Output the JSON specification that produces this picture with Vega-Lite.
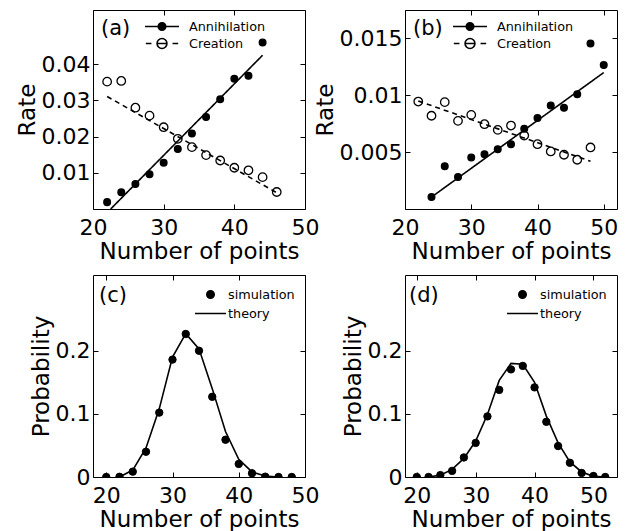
{
  "$schema": "https://vega.github.io/schema/vega-lite/v6.json",
  "background": "white",
  "padding": {"left": 15, "top": 9, "right": 0, "bottom": 0},
  "columns": 2,
  "spacing": {"row": 66, "column": 100},
  "bounds": "flush",
  "resolve": {
    "scale": {"fill": "independent", "shape": "independent"},
    "legend": {"fill": "independent", "shape": "independent"}
  },
  "datasets": {
    "a_pts": [
      {"series": "Annihilation", "n": 22, "rate": 0.0019},
      {"series": "Annihilation", "n": 24, "rate": 0.0046},
      {"series": "Annihilation", "n": 26, "rate": 0.0069},
      {"series": "Annihilation", "n": 28, "rate": 0.0096},
      {"series": "Annihilation", "n": 30, "rate": 0.0128},
      {"series": "Annihilation", "n": 32, "rate": 0.0166},
      {"series": "Annihilation", "n": 34, "rate": 0.0209},
      {"series": "Annihilation", "n": 36, "rate": 0.0254},
      {"series": "Annihilation", "n": 38, "rate": 0.0303},
      {"series": "Annihilation", "n": 40, "rate": 0.036},
      {"series": "Annihilation", "n": 42, "rate": 0.0368},
      {"series": "Annihilation", "n": 44, "rate": 0.046},
      {"series": "Creation", "n": 22, "rate": 0.0352},
      {"series": "Creation", "n": 24, "rate": 0.0354},
      {"series": "Creation", "n": 26, "rate": 0.028},
      {"series": "Creation", "n": 28, "rate": 0.0258},
      {"series": "Creation", "n": 30, "rate": 0.0226},
      {"series": "Creation", "n": 32, "rate": 0.0194},
      {"series": "Creation", "n": 34, "rate": 0.0171},
      {"series": "Creation", "n": 36, "rate": 0.0149},
      {"series": "Creation", "n": 38, "rate": 0.0134},
      {"series": "Creation", "n": 40, "rate": 0.0114},
      {"series": "Creation", "n": 42, "rate": 0.0107},
      {"series": "Creation", "n": 44, "rate": 0.0088},
      {"series": "Creation", "n": 46, "rate": 0.0047}
    ],
    "a_fit": [
      {"series": "Annihilation", "n": 22.5, "rate": 0},
      {"series": "Annihilation", "n": 44, "rate": 0.0425},
      {"series": "Creation", "n": 22, "rate": 0.0311},
      {"series": "Creation", "n": 46, "rate": 0.0045}
    ],
    "b_pts": [
      {"series": "Annihilation", "n": 24, "rate": 0.00105},
      {"series": "Annihilation", "n": 26, "rate": 0.00377},
      {"series": "Annihilation", "n": 28, "rate": 0.00281},
      {"series": "Annihilation", "n": 30, "rate": 0.00453},
      {"series": "Annihilation", "n": 32, "rate": 0.00482},
      {"series": "Annihilation", "n": 34, "rate": 0.00526},
      {"series": "Annihilation", "n": 36, "rate": 0.0057},
      {"series": "Annihilation", "n": 38, "rate": 0.00705},
      {"series": "Annihilation", "n": 40, "rate": 0.008},
      {"series": "Annihilation", "n": 42, "rate": 0.0091},
      {"series": "Annihilation", "n": 44, "rate": 0.0089},
      {"series": "Annihilation", "n": 46, "rate": 0.0101},
      {"series": "Annihilation", "n": 48, "rate": 0.01456},
      {"series": "Annihilation", "n": 50, "rate": 0.01266},
      {"series": "Creation", "n": 22, "rate": 0.00945},
      {"series": "Creation", "n": 24, "rate": 0.0082},
      {"series": "Creation", "n": 26, "rate": 0.0094},
      {"series": "Creation", "n": 28, "rate": 0.00775},
      {"series": "Creation", "n": 30, "rate": 0.00828},
      {"series": "Creation", "n": 32, "rate": 0.00746},
      {"series": "Creation", "n": 34, "rate": 0.00696},
      {"series": "Creation", "n": 36, "rate": 0.00734},
      {"series": "Creation", "n": 38, "rate": 0.00646},
      {"series": "Creation", "n": 40, "rate": 0.0057},
      {"series": "Creation", "n": 42, "rate": 0.00506},
      {"series": "Creation", "n": 44, "rate": 0.00477},
      {"series": "Creation", "n": 46, "rate": 0.00433},
      {"series": "Creation", "n": 48, "rate": 0.00541}
    ],
    "b_fit": [
      {"series": "Annihilation", "n": 24, "rate": 0.00105},
      {"series": "Annihilation", "n": 50, "rate": 0.012},
      {"series": "Creation", "n": 22, "rate": 0.0095},
      {"series": "Creation", "n": 48, "rate": 0.0042}
    ],
    "c_sim": [
      {"series": "simulation", "n": 20, "p": 0},
      {"series": "simulation", "n": 22, "p": 0.0003},
      {"series": "simulation", "n": 24, "p": 0.0085},
      {"series": "simulation", "n": 26, "p": 0.04},
      {"series": "simulation", "n": 28, "p": 0.102},
      {"series": "simulation", "n": 30, "p": 0.186},
      {"series": "simulation", "n": 32, "p": 0.2266},
      {"series": "simulation", "n": 34, "p": 0.2},
      {"series": "simulation", "n": 36, "p": 0.127},
      {"series": "simulation", "n": 38, "p": 0.059},
      {"series": "simulation", "n": 40, "p": 0.0207},
      {"series": "simulation", "n": 42, "p": 0.0059},
      {"series": "simulation", "n": 44, "p": 0.0005},
      {"series": "simulation", "n": 46, "p": 0},
      {"series": "simulation", "n": 48, "p": 0}
    ],
    "c_th": [
      {"series": "theory", "n": 22, "p": 0},
      {"series": "theory", "n": 24, "p": 0.011},
      {"series": "theory", "n": 26, "p": 0.046},
      {"series": "theory", "n": 28, "p": 0.108},
      {"series": "theory", "n": 30, "p": 0.19},
      {"series": "theory", "n": 32, "p": 0.227},
      {"series": "theory", "n": 34, "p": 0.203},
      {"series": "theory", "n": 36, "p": 0.14},
      {"series": "theory", "n": 38, "p": 0.072},
      {"series": "theory", "n": 40, "p": 0.028},
      {"series": "theory", "n": 42, "p": 0.008},
      {"series": "theory", "n": 44, "p": 0.0015},
      {"series": "theory", "n": 46, "p": 0}
    ],
    "d_sim": [
      {"series": "simulation", "n": 20, "p": 0},
      {"series": "simulation", "n": 22, "p": 0},
      {"series": "simulation", "n": 24, "p": 0.003},
      {"series": "simulation", "n": 26, "p": 0.0097},
      {"series": "simulation", "n": 28, "p": 0.031},
      {"series": "simulation", "n": 30, "p": 0.054},
      {"series": "simulation", "n": 32, "p": 0.096},
      {"series": "simulation", "n": 34, "p": 0.138},
      {"series": "simulation", "n": 36, "p": 0.1705},
      {"series": "simulation", "n": 38, "p": 0.176},
      {"series": "simulation", "n": 40, "p": 0.142},
      {"series": "simulation", "n": 42, "p": 0.0874},
      {"series": "simulation", "n": 44, "p": 0.049},
      {"series": "simulation", "n": 46, "p": 0.0225},
      {"series": "simulation", "n": 48, "p": 0.0064},
      {"series": "simulation", "n": 50, "p": 0.0016},
      {"series": "simulation", "n": 52, "p": 0}
    ],
    "d_th": [
      {"series": "theory", "n": 22, "p": 0},
      {"series": "theory", "n": 24, "p": 0.003},
      {"series": "theory", "n": 26, "p": 0.012},
      {"series": "theory", "n": 28, "p": 0.0295},
      {"series": "theory", "n": 30, "p": 0.057},
      {"series": "theory", "n": 32, "p": 0.099},
      {"series": "theory", "n": 34, "p": 0.153},
      {"series": "theory", "n": 36, "p": 0.18},
      {"series": "theory", "n": 38, "p": 0.1785},
      {"series": "theory", "n": 40, "p": 0.15},
      {"series": "theory", "n": 42, "p": 0.0965},
      {"series": "theory", "n": 44, "p": 0.054},
      {"series": "theory", "n": 46, "p": 0.024},
      {"series": "theory", "n": 48, "p": 0.008},
      {"series": "theory", "n": 50, "p": 0.001},
      {"series": "theory", "n": 52, "p": 0}
    ]
  },
  "concat": [
    {
      "width": 212,
      "height": 199,
      "layer": [
        {
          "data": {"name": "a_fit"},
          "mark": {"type": "line", "color": "black", "strokeWidth": 1.6, "clip": true},
          "encoding": {
            "x": {"field": "n", "type": "quantitative", "scale": {"domain": [20, 50], "nice": false, "zero": false}, "axis": {"orient": "top", "labels": false, "title": null, "values": [20, 30, 40, 50]}},
            "y": {"field": "rate", "type": "quantitative", "scale": {"domain": [0, 0.055], "nice": false}, "axis": {"orient": "right", "labels": false, "title": null, "values": [0.01, 0.02, 0.03, 0.04]}},
            "detail": {"field": "series", "type": "nominal"},
            "strokeDash": {"condition": {"test": "datum.series === 'Creation'", "value": [5, 4]}, "value": [1, 0]}
          }
        },
        {
          "data": {"name": "a_pts"},
          "mark": {"type": "point", "filled": true, "stroke": "black", "strokeWidth": 1.3, "opacity": 1, "clip": true},
          "encoding": {
            "x": {"field": "n", "type": "quantitative", "axis": {"title": "Number of points", "values": [20, 30, 40, 50]}},
            "y": {"field": "rate", "type": "quantitative", "axis": {"title": "Rate", "values": [0.01, 0.02, 0.03, 0.04], "format": "~g"}},
            "size": {"condition": {"test": "datum.series === 'Annihilation'", "value": 45}, "value": 72},
            "fill": {"condition": {"test": "datum.series === 'Annihilation'", "value": "black"}, "value": "transparent"}
          }
        },
        {
          "data": {"name": "a_pts"},
          "transform": [{"filter": "false"}],
          "mark": {"type": "point", "filled": true, "stroke": "black", "strokeWidth": 1.6, "opacity": 1},
          "encoding": {
            "x": {"field": "n", "type": "quantitative", "axis": null},
            "y": {"field": "rate", "type": "quantitative", "axis": null},
            "shape": {
              "field": "series", "type": "nominal",
              "scale": {"domain": ["Annihilation", "Creation"], "range": ["M-1,0H1M-0.22,0A0.22,0.22 0 1 1 0.22,0A0.22,0.22 0 1 1 -0.22,0Z", "M-0.95,0H-0.62M-0.3,0H0.3M0.62,0H0.95M-0.29,0A0.29,0.29 0 1 1 0.29,0A0.29,0.29 0 1 1 -0.29,0Z"]},
              "legend": {"title": "(a)", "orient": "top-left", "offset": 8, "titlePadding": 13, "symbolSize": 1156, "labelOffset": 9, "clipHeight": 17}
            },
            "fill": {
              "field": "series", "type": "nominal",
              "scale": {"domain": ["Annihilation", "Creation"], "range": ["black", "transparent"]},
              "legend": {"title": "(a)", "orient": "top-left", "offset": 8, "titlePadding": 13, "symbolSize": 1156, "labelOffset": 9, "clipHeight": 17}
            }
          }
        }
      ],
      "resolve": {"axis": {"x": "independent", "y": "independent"}}
    },
    {
      "width": 212,
      "height": 199,
      "layer": [
        {
          "data": {"name": "b_fit"},
          "mark": {"type": "line", "color": "black", "strokeWidth": 1.6, "clip": true},
          "encoding": {
            "x": {"field": "n", "type": "quantitative", "scale": {"domain": [20, 52], "nice": false, "zero": false}, "axis": {"orient": "top", "labels": false, "title": null, "values": [20, 30, 40, 50]}},
            "y": {"field": "rate", "type": "quantitative", "scale": {"domain": [0, 0.0175], "nice": false}, "axis": {"orient": "right", "labels": false, "title": null, "values": [0.005, 0.01, 0.015]}},
            "detail": {"field": "series", "type": "nominal"},
            "strokeDash": {"condition": {"test": "datum.series === 'Creation'", "value": [5, 4]}, "value": [1, 0]}
          }
        },
        {
          "data": {"name": "b_pts"},
          "mark": {"type": "point", "filled": true, "stroke": "black", "strokeWidth": 1.3, "opacity": 1, "clip": true},
          "encoding": {
            "x": {"field": "n", "type": "quantitative", "axis": {"title": "Number of points", "values": [20, 30, 40, 50]}},
            "y": {"field": "rate", "type": "quantitative", "axis": {"title": "Rate", "values": [0.005, 0.01, 0.015], "format": "~g"}},
            "size": {"condition": {"test": "datum.series === 'Annihilation'", "value": 45}, "value": 72},
            "fill": {"condition": {"test": "datum.series === 'Annihilation'", "value": "black"}, "value": "transparent"}
          }
        },
        {
          "data": {"name": "b_pts"},
          "transform": [{"filter": "false"}],
          "mark": {"type": "point", "filled": true, "stroke": "black", "strokeWidth": 1.6, "opacity": 1},
          "encoding": {
            "x": {"field": "n", "type": "quantitative", "axis": null},
            "y": {"field": "rate", "type": "quantitative", "axis": null},
            "shape": {
              "field": "series", "type": "nominal",
              "scale": {"domain": ["Annihilation", "Creation"], "range": ["M-1,0H1M-0.22,0A0.22,0.22 0 1 1 0.22,0A0.22,0.22 0 1 1 -0.22,0Z", "M-0.95,0H-0.62M-0.3,0H0.3M0.62,0H0.95M-0.29,0A0.29,0.29 0 1 1 0.29,0A0.29,0.29 0 1 1 -0.29,0Z"]},
              "legend": {"title": "(b)", "orient": "top-left", "offset": 8, "titlePadding": 9, "symbolSize": 1156, "labelOffset": 9, "clipHeight": 17}
            },
            "fill": {
              "field": "series", "type": "nominal",
              "scale": {"domain": ["Annihilation", "Creation"], "range": ["black", "transparent"]},
              "legend": {"title": "(b)", "orient": "top-left", "offset": 8, "titlePadding": 9, "symbolSize": 1156, "labelOffset": 9, "clipHeight": 17}
            }
          }
        }
      ],
      "resolve": {"axis": {"x": "independent", "y": "independent"}}
    },
    {
      "width": 212,
      "height": 202,
      "layer": [
        {
          "data": {"name": "c_th"},
          "mark": {"type": "line", "color": "black", "strokeWidth": 1.6, "clip": true},
          "encoding": {
            "x": {"field": "n", "type": "quantitative", "scale": {"domain": [18, 50], "nice": false, "zero": false}, "axis": {"orient": "top", "labels": false, "title": null, "values": [20, 30, 40, 50]}},
            "y": {"field": "p", "type": "quantitative", "scale": {"domain": [0, 0.32], "nice": false}, "axis": {"orient": "right", "labels": false, "title": null, "values": [0, 0.1, 0.2]}}
          }
        },
        {
          "data": {"name": "c_sim"},
          "mark": {"type": "point", "filled": true, "fill": "black", "stroke": "black", "strokeWidth": 1, "size": 55, "opacity": 1, "clip": true},
          "encoding": {
            "x": {"field": "n", "type": "quantitative", "axis": {"title": "Number of points", "values": [20, 30, 40, 50]}},
            "y": {"field": "p", "type": "quantitative", "axis": {"title": "Probability", "values": [0, 0.1, 0.2], "format": "~g"}}
          }
        },
        {
          "data": {"name": "c_sim"},
          "transform": [{"filter": "false"}],
          "mark": {"type": "point", "filled": true, "stroke": "black", "strokeWidth": 1.6, "opacity": 1},
          "encoding": {
            "x": {"field": "n", "type": "quantitative", "axis": null},
            "y": {"field": "p", "type": "quantitative", "axis": null},
            "shape": {
              "field": "series", "type": "nominal",
              "scale": {"domain": ["simulation", "theory"], "range": ["M-0.24,0A0.24,0.24 0 1 1 0.24,0A0.24,0.24 0 1 1 -0.24,0Z", "M-1,0H1"]},
              "legend": {"title": "(c)", "orient": "top-right", "offset": 10, "titlePadding": 67, "symbolSize": 961, "labelOffset": 1, "clipHeight": 19}
            },
            "fill": {
              "field": "series", "type": "nominal",
              "scale": {"domain": ["simulation", "theory"], "range": ["black", "transparent"]},
              "legend": {"title": "(c)", "orient": "top-right", "offset": 10, "titlePadding": 67, "symbolSize": 961, "labelOffset": 1, "clipHeight": 19}
            }
          }
        }
      ],
      "resolve": {"axis": {"x": "independent", "y": "independent"}}
    },
    {
      "width": 212,
      "height": 202,
      "layer": [
        {
          "data": {"name": "d_th"},
          "mark": {"type": "line", "color": "black", "strokeWidth": 1.6, "clip": true},
          "encoding": {
            "x": {"field": "n", "type": "quantitative", "scale": {"domain": [18, 54], "nice": false, "zero": false}, "axis": {"orient": "top", "labels": false, "title": null, "values": [20, 30, 40, 50]}},
            "y": {"field": "p", "type": "quantitative", "scale": {"domain": [0, 0.32], "nice": false}, "axis": {"orient": "right", "labels": false, "title": null, "values": [0, 0.1, 0.2]}}
          }
        },
        {
          "data": {"name": "d_sim"},
          "mark": {"type": "point", "filled": true, "fill": "black", "stroke": "black", "strokeWidth": 1, "size": 55, "opacity": 1, "clip": true},
          "encoding": {
            "x": {"field": "n", "type": "quantitative", "axis": {"title": "Number of points", "values": [20, 30, 40, 50]}},
            "y": {"field": "p", "type": "quantitative", "axis": {"title": "Probability", "values": [0, 0.1, 0.2], "format": "~g"}}
          }
        },
        {
          "data": {"name": "d_sim"},
          "transform": [{"filter": "false"}],
          "mark": {"type": "point", "filled": true, "stroke": "black", "strokeWidth": 1.6, "opacity": 1},
          "encoding": {
            "x": {"field": "n", "type": "quantitative", "axis": null},
            "y": {"field": "p", "type": "quantitative", "axis": null},
            "shape": {
              "field": "series", "type": "nominal",
              "scale": {"domain": ["simulation", "theory"], "range": ["M-0.24,0A0.24,0.24 0 1 1 0.24,0A0.24,0.24 0 1 1 -0.24,0Z", "M-1,0H1"]},
              "legend": {"title": "(d)", "orient": "top-right", "offset": 10, "titlePadding": 67, "symbolSize": 961, "labelOffset": 1, "clipHeight": 19}
            },
            "fill": {
              "field": "series", "type": "nominal",
              "scale": {"domain": ["simulation", "theory"], "range": ["black", "transparent"]},
              "legend": {"title": "(d)", "orient": "top-right", "offset": 10, "titlePadding": 67, "symbolSize": 961, "labelOffset": 1, "clipHeight": 19}
            }
          }
        }
      ],
      "resolve": {"axis": {"x": "independent", "y": "independent"}}
    }
  ],
  "config": {
    "font": "DejaVu Sans",
    "view": {"stroke": "black", "strokeWidth": 1},
    "axis": {
      "domain": false, "grid": false, "ticks": true, "tickSize": -5, "tickColor": "black", "tickWidth": 1,
      "labelFont": "DejaVu Sans", "labelFontSize": 22, "labelColor": "black", "labelFlush": false, "labelOverlap": false,
      "titleFont": "DejaVu Sans", "titleFontSize": 23, "titleFontWeight": "normal", "titleColor": "black"
    },
    "axisX": {"labelPadding": 13, "titlePadding": 2},
    "axisY": {"labelPadding": 8, "titlePadding": 2},
    "legend": {
      "padding": 0, "rowPadding": 0, "titleOrient": "left", "titleAnchor": "start", "titleBaseline": "top", "symbolStrokeWidth": 1.6,
      "labelFont": "DejaVu Sans", "labelFontSize": 12.8, "labelColor": "black",
      "titleFont": "DejaVu Sans", "titleFontSize": 21, "titleFontWeight": "normal", "titleColor": "black"
    }
  }
}
